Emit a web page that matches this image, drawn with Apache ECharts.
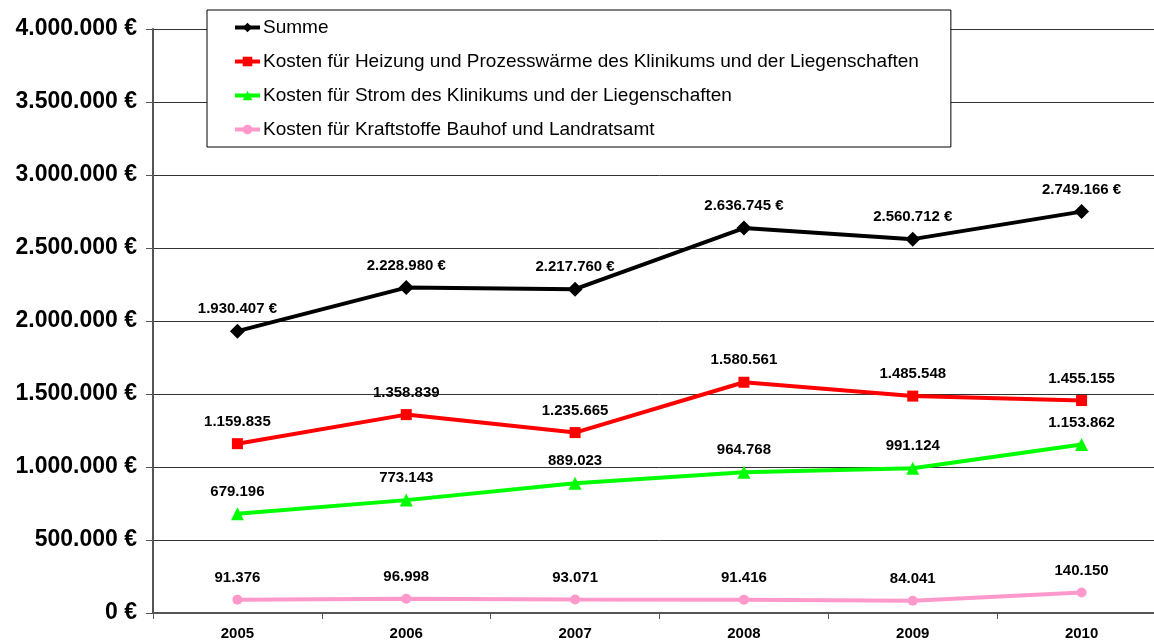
<!DOCTYPE html>
<html><head><meta charset="utf-8">
<script src="https://cdn.jsdelivr.net/npm/echarts@6/dist/echarts.min.js"></script>
<style>html,body{margin:0;padding:0;background:#fff;overflow:hidden;width:1154px;height:644px;}#c{width:1166px;height:644px;}</style>
</head><body><div id="c"></div>
<script>
const years = ['2005','2006','2007','2008','2009','2010'];
const summe = [1930407, 2228980, 2217760, 2636745, 2560712, 2749166];
const heizung = [1159835, 1358839, 1235665, 1580561, 1485548, 1455155];
const strom = [679196, 773143, 889023, 964768, 991124, 1153862];
const kraftstoffe = [91376, 96998, 93071, 91416, 84041, 140150];
const seriesNames = [
  'Summe',
  'Kosten für Heizung und Prozesswärme des Klinikums und der Liegenschaften',
  'Kosten für Strom des Klinikums und der Liegenschaften',
  'Kosten für Kraftstoffe Bauhof und Landratsamt'
];
const yTicks = [0, 500000, 1000000, 1500000, 2000000, 2500000, 3000000, 3500000, 4000000];

function de(n){ return String(Math.round(n)).replace(/\B(?=(\d{3})+(?!\d))/g,'.'); }

const font = 'Liberation Sans, Arial, sans-serif';
function mk(name, data, color, symbol, size, euro, dist){
  return {
    name, type:'line', data, symbol, symbolSize:size,
    lineStyle:{color, width:4}, itemStyle:{color},
    label:{show:true, position:'top', distance:dist, color:'#000', fontFamily:font, fontWeight:'bold', fontSize:15,
      formatter:p=>de(p.value)+(euro?' €':'')},
    z: 3
  };
}
const chart = echarts.init(document.getElementById('c'), null, {renderer:'canvas'});
chart.setOption({
  animation:false,
  backgroundColor:'#fff',
  grid:{left:153, top:29, right:0, bottom:31, containLabel:false},
  legend:{
    orient:'vertical', left:207, top:10,
    backgroundColor:'#fff', borderColor:'#000', borderWidth:1,
    padding:[8, 32, 8, 26], itemGap:15, itemWidth:25, itemHeight:12,
    lineStyle:{width:4},
    textStyle:{fontFamily:font, fontSize:19, color:'#000', padding:[0,0,0,-2]},
    data: seriesNames, z: 10
  },
  xAxis:{
    type:'category', data:years, boundaryGap:true,
    axisLine:{lineStyle:{color:'#555', width:2}},
    axisTick:{show:true, length:6, lineStyle:{color:'#555', width:1}},
    axisLabel:{fontFamily:font, fontWeight:'bold', fontSize:15, color:'#000', margin:13}
  },
  yAxis:{
    type:'value', min:0, max:4000000, interval:500000,
    axisLine:{show:true, lineStyle:{color:'#555', width:2}},
    axisTick:{show:true, length:7, lineStyle:{color:'#555', width:1}},
    splitLine:{show:true, lineStyle:{color:'#333', width:1}},
    axisLabel:{fontFamily:font, fontWeight:'bold', fontSize:23, color:'#000', margin:16,
      formatter:v=>yTicks.includes(v)? de(v)+' €' : ''}
  },
  series:[
    mk(seriesNames[0], summe, '#000000', 'diamond', 15, true, 7),
    mk(seriesNames[1], heizung, '#ff0000', 'rect', 11, false, 9),
    mk(seriesNames[2], strom, '#00ff00', 'triangle', 13, false, 8),
    mk(seriesNames[3], kraftstoffe, '#ff99cc', 'circle', 10, false, 9)
  ]
});
</script></body></html>
